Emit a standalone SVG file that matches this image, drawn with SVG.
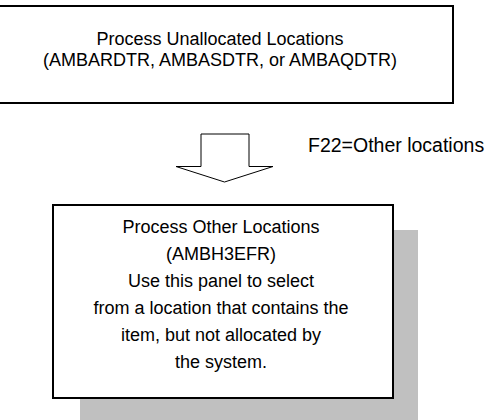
<svg xmlns="http://www.w3.org/2000/svg" width="487" height="420" viewBox="0 0 487 420">
<style>
.box{fill:#ffffff;stroke:#000000;stroke-width:2}
.shadow{fill:#c0c0c0;stroke:none}
.t{font-family:"Liberation Sans",Arial,sans-serif;font-size:18px;fill:#000000;text-anchor:middle}
.lbl{font-family:"Liberation Sans",Arial,sans-serif;font-size:19.5px;fill:#000000}
.arrow{fill:#ffffff;stroke:#000000;stroke-width:1}
</style>
<rect width="487" height="420" fill="#ffffff"/>
<g id="node-unallocated">
<rect class="box" x="-13" y="6" width="466" height="97"/>
<text class="t" x="220" y="45">Process Unallocated Locations</text>
<text class="t" x="220" y="66">(AMBARDTR, AMBASDTR, or AMBAQDTR)</text>
</g>
<g id="connectors">
<polygon class="arrow" points="201,134 249,134 249,166.5 273,166.5 224.5,182 176,166.5 201,166.5"/>
<text class="lbl" x="308" y="152">F22=Other locations</text>
</g>
<g id="node-other">
<rect class="shadow" x="80" y="230" width="338" height="193"/>
<rect class="box" x="53" y="205" width="340" height="193"/>
<text class="t" x="221" y="233">Process Other Locations</text>
<text class="t" x="221" y="260">(AMBH3EFR)</text>
<text class="t" x="221" y="287">Use this panel to select</text>
<text class="t" x="221" y="314">from a location that contains the</text>
<text class="t" x="221" y="341">item, but not allocated by</text>
<text class="t" x="221" y="368">the system.</text>
</g>
</svg>
